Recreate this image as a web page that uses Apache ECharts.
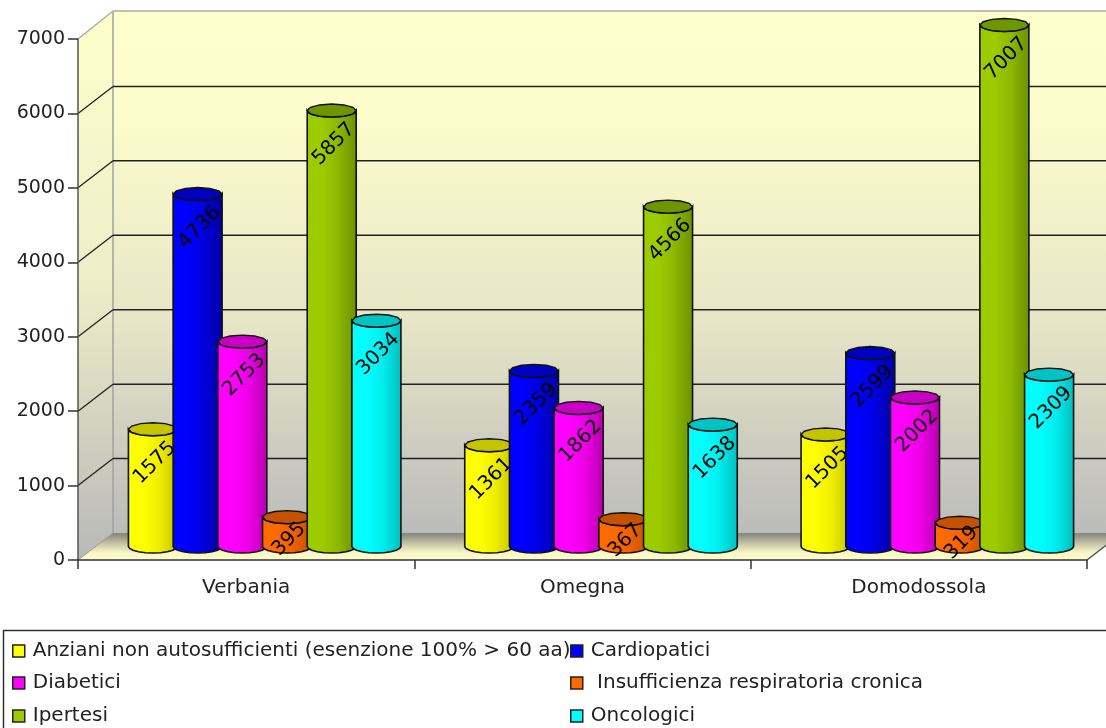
<!DOCTYPE html>
<html><head><meta charset="utf-8">
<style>html,body{margin:0;padding:0;background:#fff}#c{width:1106px;height:728px}</style>
<script src="https://cdn.jsdelivr.net/npm/echarts@6/dist/echarts.min.js"></script>
</head><body><div id="c"></div>
<script>
const categories = ['Verbania', 'Omegna', 'Domodossola'];
const anziani = [1575, 1361, 1505];
const cardiopatici = [4736, 2359, 2599];
const diabetici = [2753, 1862, 2002];
const insufficienza = [395, 367, 319];
const ipertesi = [5857, 4566, 7007];
const oncologici = [3034, 1638, 2309];
const yTicks = [0, 1000, 2000, 3000, 4000, 5000, 6000, 7000];
const seriesNames = ['Anziani non autosufficienti (esenzione 100% > 60 aa)', 'Cardiopatici', 'Diabetici', ' Insufficienza respiratoria cronica', 'Ipertesi', 'Oncologici'];
const seriesValues = [anziani, cardiopatici, diabetici, insufficienza, ipertesi, oncologici];

const FONT = '"DejaVu Sans"';
const TEXT = '#222';
// [base, mid, dark, top-cap]
const palette = [
  ['#FFFF00', '#EEEE00', '#C4C400', '#C4C400'],
  ['#0000FF', '#0000DD', '#0000A0', '#0000C0'],
  ['#FF00FF', '#EE00E8', '#B400AC', '#C800C4'],
  ['#FF6A00', '#EE6000', '#C45200', '#C45200'],
  ['#9CCC00', '#8CB800', '#6C9000', '#6E9600'],
  ['#00FFFF', '#00EEEE', '#00BEBE', '#00C4C4']
];
const DX = 35, DY = 27;            // depth of the 3D box
const PITCH = 44.7, RX = 24.5, RY = 6.5, CX = 18.5, CY = 13.5;

function arc(cx, cy, from, to, n) {
  const pts = [];
  for (let i = 0; i <= n; i++) {
    const a = from + (to - from) * i / n;
    pts.push([cx + RX * Math.cos(a), cy + RY * Math.sin(a)]);
  }
  return pts;
}

function renderWalls(params, api) {
  const cs = params.coordSys;
  const x0 = cs.x, x1 = cs.x + cs.width;
  const y0 = api.coord([0, 0])[1], yTop = api.coord([0, 7000])[1];
  const wall = {
    type: 'linear', x: 0, y: 0, x2: 0, y2: 1,
    colorStops: [{offset: 0, color: '#FFFFCC'}, {offset: 0.2, color: '#FDFCCB'}, {offset: 0.6, color: '#E6E5C6'}, {offset: 1, color: '#BBBBBB'}]
  };
  const side = {
    type: 'linear', x: 0, y: 0, x2: 0, y2: 1,
    colorStops: [{offset: 0, color: '#FFFFCC'}, {offset: 0.5, color: '#EEEDC8'}, {offset: 1, color: '#B8B8B8'}]
  };
  const floor = {
    type: 'linear', x: 0, y: 0, x2: 0, y2: 1,
    colorStops: [{offset: 0, color: '#86867A'}, {offset: 0.15, color: '#9A9A8A'}, {offset: 0.45, color: '#CFCEAC'}, {offset: 0.75, color: '#FBF8C8'}, {offset: 1, color: '#FFFCCC'}]
  };
  const children = [
    {type: 'rect', shape: {x: x0 + DX, y: yTop - DY - 1, width: x1 - x0 + 30, height: y0 - yTop + 1}, style: {fill: wall}},
    {type: 'polygon', shape: {points: [[x0, yTop], [x0 + DX, yTop - DY - 1], [x0 + DX, y0 - DY], [x0, y0]]}, style: {fill: side}},
    {type: 'polygon', shape: {points: [[x0, y0], [x0 + DX, y0 - DY], [x1 + DX, y0 - DY], [x1, y0]]}, style: {fill: floor}},
    {type: 'line', shape: {x1: x0 + DX, y1: yTop - DY - 1, x2: x1 + DX, y2: yTop - DY - 1}, style: {stroke: '#A8A8A8', lineWidth: 1.5}},
    {type: 'line', shape: {x1: x0 + DX, y1: yTop - DY - 1, x2: x0 + DX, y2: y0 - DY}, style: {stroke: '#A0A0A0', lineWidth: 1.5}},
    {type: 'line', shape: {x1: x0, y1: yTop, x2: x0 + DX, y2: yTop - DY - 1}, style: {stroke: '#AAAAAA', lineWidth: 1.5}},
    {type: 'line', shape: {x1: x0, y1: y0, x2: x0 + DX, y2: y0 - DY}, style: {stroke: '#999999', lineWidth: 1}},
    {type: 'line', shape: {x1: x1, y1: y0, x2: x1 + DX, y2: y0 - DY}, style: {stroke: '#555555', lineWidth: 1.5}}
  ];
  yTicks.forEach(t => {
    if (t === 0 || t === 7000) return;
    const y = api.coord([0, t])[1];
    children.push({type: 'line', shape: {x1: x0, y1: y, x2: x0 + DX, y2: y - DY}, style: {stroke: '#222', lineWidth: 1.3}});
    children.push({type: 'line', shape: {x1: x0 + DX, y1: y - DY, x2: x1 + DX, y2: y - DY}, style: {stroke: '#222', lineWidth: 1.5}});
  });
  return {type: 'group', children};
}

function makeRender(seriesIndex) {
  return function (params, api) {
    const cat = api.value(0), val = api.value(1);
    const p = api.coord([cat, val]);
    const b = api.coord([cat, 0]);
    const cx = p[0] + CX + (seriesIndex - 2.5) * PITCH;
    const topY = p[1] - CY, botY = b[1] - CY;
    const c = palette[seriesIndex];
    const body = arc(cx, botY, 0, Math.PI, 10).concat(arc(cx, topY, Math.PI, 0, 10));
    const labelDrop = Math.min(27, (botY - topY) * 0.4 + 4);
    return {
      type: 'group',
      children: [
        {type: 'polygon', shape: {points: body}, style: {
          fill: {type: 'linear', x: 0, y: 0, x2: 1, y2: 0, colorStops: [
            {offset: 0, color: c[0]}, {offset: 0.3, color: c[0]}, {offset: 0.62, color: c[1]}, {offset: 1, color: c[2]}]},
          stroke: '#111', lineWidth: 1.6}},
        {type: 'polygon', shape: {points: arc(cx, topY, 0, Math.PI * 2, 12)}, style: {fill: c[3], stroke: '#111', lineWidth: 1.4}},
        {type: 'text', x: cx + 2, y: topY + RY + labelDrop, rotation: Math.PI / 4, style: {
          text: String(val), x: 0, y: 0, align: 'center', verticalAlign: 'middle',
          fill: '#000', font: '20px ' + FONT}}
      ]
    };
  };
}

const series = [{
  type: 'custom', name: '__walls', silent: true, clip: false, z: 1,
  data: [[0, 0]], encode: {x: 0, y: 1}, renderItem: renderWalls, animation: false
}];
seriesNames.forEach((name, i) => {
  series.push({
    type: 'custom', name, clip: false, z: 3, animation: false,
    itemStyle: {color: palette[i][0]},
    encode: {x: 0, y: 1},
    data: seriesValues[i].map((v, k) => [k, v]),
    renderItem: makeRender(i)
  });
});

const legendPos = [[12, 641], [570, 641], [12, 673], [570, 673], [12, 706], [570, 706]];
const legends = seriesNames.map((name, i) => ({
  data: [name], left: legendPos[i][0], top: legendPos[i][1], padding: 0, itemWidth: 12, itemHeight: 12, itemGap: 0,
  icon: 'rect', selectedMode: false, align: 'left',
  itemStyle: {borderColor: '#222', borderWidth: 1.5},
  textStyle: {fontFamily: FONT, fontSize: 20, color: TEXT, padding: [0, 0, 0, 3]}
}));

const chart = echarts.init(document.getElementById('c'), null, {renderer: 'canvas'});
chart.setOption({
  animation: false,
  backgroundColor: '#fff',
  grid: {left: 78, right: 19, top: 39, bottom: 168},
  xAxis: {
    type: 'category', data: categories, boundaryGap: true,
    axisLine: {lineStyle: {color: '#333', width: 1.5}},
    axisTick: {show: true, alignWithLabel: false, length: 9, lineStyle: {color: '#333', width: 1.5}},
    axisLabel: {fontFamily: FONT, fontSize: 20, color: TEXT, margin: 18},
    z: 2
  },
  yAxis: {
    type: 'value', min: 0, max: 7000, interval: 1000,
    splitLine: {show: false},
    axisLine: {show: true, lineStyle: {color: '#555', width: 1.5}},
    axisTick: {show: true, length: 10, lineStyle: {color: '#333', width: 1.5}},
    axisLabel: {fontFamily: FONT, fontSize: 19, color: TEXT, margin: 13, formatter: v => String(v)},
    z: 2
  },
  legend: legends,
  tooltip: {show: false},
  graphic: [{type: 'rect', z: 0, shape: {x: 3.5, y: 630.5, width: 1200, height: 200}, style: {fill: '#fff', stroke: '#333', lineWidth: 1.5}}],
  series
});
</script></body></html>
